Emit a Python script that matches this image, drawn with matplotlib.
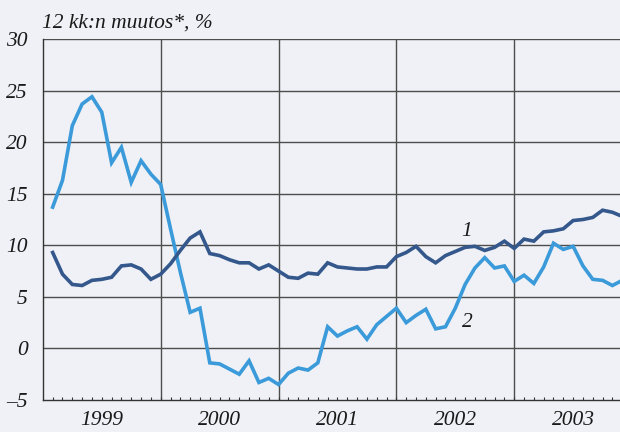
import matplotlib
matplotlib.use("Agg")
import matplotlib.pyplot as plt
import numpy as np

# Monthly data, Jan 1999 .. Nov 2003 (plotted at month end)
series1 = [9.3, 7.2, 6.2, 6.1, 6.6, 6.7, 6.9, 8.0, 8.1, 7.7, 6.7, 7.2,
           8.2, 9.5, 10.7, 11.3, 9.2, 9.0, 8.6, 8.3, 8.3, 7.7, 8.1, 7.5,
           6.9, 6.8, 7.3, 7.2, 8.3, 7.9, 7.8, 7.7, 7.7, 7.9, 7.9, 8.9,
           9.3, 9.9, 8.9, 8.3, 9.0, 9.4, 9.8, 9.9, 9.5, 9.8, 10.4, 9.7,
           10.6, 10.4, 11.3, 11.4, 11.6, 12.4, 12.5, 12.7, 13.4, 13.2, 12.8]
series2 = [13.7, 16.3, 21.6, 23.7, 24.4, 22.9, 18.0, 19.5, 16.1, 18.2, 16.9, 15.9,
           11.6, 7.4, 3.5, 3.9, -1.4, -1.5, -2.0, -2.5, -1.2, -3.3, -2.9, -3.5,
           -2.4, -1.9, -2.1, -1.4, 2.1, 1.2, 1.7, 2.1, 0.9, 2.3, 3.1, 3.9,
           2.5, 3.2, 3.8, 1.9, 2.1, 3.9, 6.2, 7.8, 8.8, 7.8, 8.0, 6.5,
           7.1, 6.3, 7.9, 10.2, 9.6, 9.9, 8.0, 6.7, 6.6, 6.1, 6.6]
years = ["1999", "2000", "2001", "2002", "2003"]
y_ticks = [-5, 0, 5, 10, 15, 20, 25, 30]
title = "12 kk:n muutos*, %"
labels = ["1", "2"]

bg = "#eff1f6"
dark = "#34578c"
light = "#3b9ad9"
grid_c = "#4d4d4d"
txt = "#1a1a1a"
fs = 15.5

plt.rcParams['font.family'] = ['Liberation Serif', 'DejaVu Serif']
plt.rcParams['font.style'] = 'italic'

fig = plt.figure(figsize=(6.2, 4.32), dpi=100, facecolor=bg)
ax = fig.add_axes([42.85 / 620, 1 - 400 / 432, 1 - 42.85 / 620, 361 / 432])
ax.set_facecolor(bg)

x = np.arange(1, len(series1) + 1)
ax.set_xlim(0, (620 - 42.85) / 9.82)
ax.set_ylim(-5, 30)

# grid
for yv in y_ticks[1:]:
    ax.axhline(yv, color=grid_c, lw=1.0, zorder=1)
for k in range(1, len(years)):
    ax.axvline(12 * k, color=grid_c, lw=1.0, zorder=1)

ax.plot(x, series2, color=light, lw=2.6, solid_joinstyle='miter', zorder=3)
ax.plot(x, series1, color=dark, lw=2.6, solid_joinstyle='miter', zorder=3)

for s in ['top', 'right']:
    ax.spines[s].set_visible(False)
for s in ['left', 'bottom']:
    ax.spines[s].set_color('#333333')
    ax.spines[s].set_linewidth(1.0)

ax.set_yticks(y_ticks)
ax.set_yticklabels([str(v).replace('-', '\u2013') for v in y_ticks], fontsize=fs, style='italic', color=txt)
ax.tick_params(axis='y', length=0, pad=11)

ax.set_xticks(np.arange(1, 59))
ax.set_xticklabels([])
ax.tick_params(axis='x', direction='in', length=2.5, width=0.8, color='#333333')
for i, yr in enumerate(years):
    ax.text(12 * i + 6, -6.1, yr, ha='center', va='top', fontsize=fs, style='italic', color=txt)

ax.text(43.2, 11.3, labels[0], ha='center', va='center', fontsize=fs, style='italic', color=txt)
ax.text(43.2, 2.5, labels[1], ha='center', va='center', fontsize=fs, style='italic', color=txt)

fig.text(42 / 620, 1 - 28 / 432, title, ha='left', va='baseline', fontsize=fs, style='italic', color=txt)

fig.savefig("out.png", dpi=100, facecolor=bg)
